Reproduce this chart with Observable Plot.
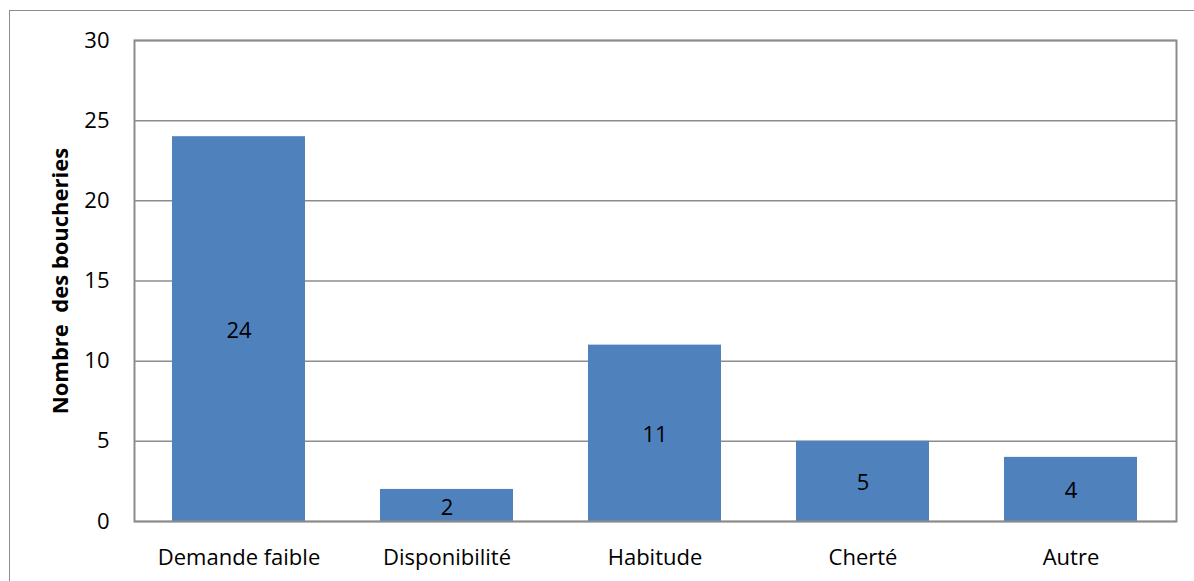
<!DOCTYPE html>
<html><head><meta charset="utf-8">
<script src="https://cdn.jsdelivr.net/npm/d3@7"></script>
<script src="https://cdn.jsdelivr.net/npm/@observablehq/plot@0.6"></script>
<style>
html,body{margin:0;padding:0;background:#fff;}
#wrap{position:relative;width:1194px;height:581px;overflow:hidden;}
#frame{position:absolute;left:9px;top:10px;width:1200px;height:600px;border:1.5px solid #8c8c8c;box-sizing:border-box;}
#chart{position:absolute;left:0;top:0;}
</style></head>
<body><div id="wrap"><div id="frame"></div><div id="chart"></div></div>
<script>
const categories = ["Demande faible","Disponibilité","Habitude","Cherté","Autre"];
const values = [24, 2, 11, 5, 4];
const yTicks = [0,5,10,15,20,25,30];
const yLabel = "Nombre  des boucheries";

const data = categories.map((c,i)=>({cat:c, v:values[i]}));
const font = "Open Sans, sans-serif";
const fs = 22;
const plot = Plot.plot({
  width:1194, height:581,
  marginLeft:134, marginRight:18, marginTop:40, marginBottom:60,
  style:{fontFamily:font, fontSize:fs+"px", color:"#000", background:"transparent"},
  x:{domain:categories, paddingInner:0.36, paddingOuter:0.18, label:null},
  y:{domain:[0,30], label:null},
  marks:[
    Plot.gridY(yTicks,{stroke:"#8c8c8c", strokeOpacity:1, strokeWidth:1.5}),
    Plot.barY(data,{x:"cat", y:"v", fill:"#4F81BD"}),
    Plot.text(data,{x:"cat", y:d=>d.v/2, dy:2, text:d=>String(d.v), fill:"#000", fontSize:fs}),
    Plot.frame({stroke:"#8c8c8c", strokeWidth:2}),
    Plot.axisX({tickSize:0, tickPadding:28, fontSize:fs, label:null}),
    Plot.axisY(yTicks,{tickSize:0, tickPadding:25, fontSize:fs, label:null}),
    Plot.text([yLabel],{frameAnchor:"left", textAnchor:"middle", dx:-74, rotate:-90, fontWeight:"bold", fontSize:fs, text:d=>d})
  ]
});
document.getElementById("chart").appendChild(plot);
</script></body></html>
